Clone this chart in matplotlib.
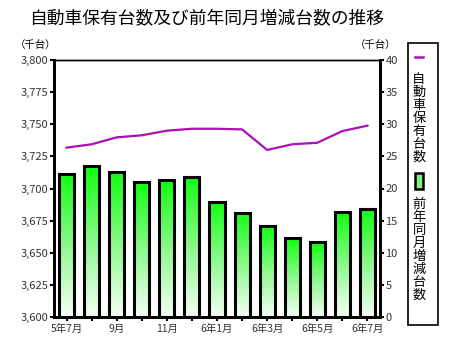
import numpy as np
import matplotlib
matplotlib.use("Agg")
import matplotlib.pyplot as plt
from matplotlib.patches import Rectangle
from matplotlib.lines import Line2D
from matplotlib.colors import LinearSegmentedColormap

plt.rcParams['font.family'] = ['Noto Sans CJK JP', 'DejaVu Sans']

## data (thousand vehicles)
months = ["5年7月", "8月", "9月", "10月", "11月", "12月", "6年1月",
          "2月", "6年3月", "4月", "6年5月", "6月", "6年7月"]
holdings = [3731.8, 3734.4, 3739.8, 3741.4, 3745.0, 3746.5, 3746.5,
            3746.0, 3730.0, 3734.4, 3735.6, 3744.7, 3748.9]
yoy_change = [22.3, 23.5, 22.6, 21.0, 21.3, 21.8, 17.9,
              16.2, 14.2, 12.3, 11.6, 16.4, 16.8]
left_ticks = [3600, 3625, 3650, 3675, 3700, 3725, 3750, 3775, 3800]
right_ticks = [0, 5, 10, 15, 20, 25, 30, 35, 40]

purple = '#aa10b4'
green_cmap = LinearSegmentedColormap.from_list("g", ["#f6fff6", "#8cf88c", "#10ff10"])

fig = plt.figure(figsize=(4.58, 3.58), dpi=100)
ax = fig.add_axes([54/458, 1-317/358, 326/458, 257/358])
x = np.arange(len(months))

# bars (right scale) with vertical gradient
bars = ax.bar(x, yoy_change, width=0.6, facecolor='none',
              edgecolor='black', linewidth=2.2, zorder=3)
grad = np.linspace(0, 1, 256).reshape(-1, 1)
for b in bars:
    im = ax.imshow(grad, cmap=green_cmap, aspect='auto', origin='lower',
                   extent=[b.get_x(), b.get_x()+b.get_width(), 0, b.get_height()],
                   zorder=2)
    im.set_clip_path(b)
ax.set_xlim(-0.5, len(months)-0.5)
ax.set_ylim(0, 40)

# line (left scale)
ax2 = ax.twinx()
ax2.plot(x, holdings, color=purple, linewidth=1.6)
ax2.set_ylim(3600, 3800)
ax2.yaxis.tick_left()
ax2.set_yticks(left_ticks)
ax2.set_yticklabels([f"{v:,}" for v in left_ticks])
ax.yaxis.tick_right()
ax.set_yticks(right_ticks)

shown = {0, 2, 4, 6, 8, 10, 12}
ax.set_xticks(x)
ax.set_xticklabels([m if i in shown else "" for i, m in enumerate(months)])

for a in (ax, ax2):
    for s in ('left', 'right', 'bottom'):
        a.spines[s].set_linewidth(2)
    a.spines['top'].set_linewidth(1)
    a.tick_params(axis='both', labelsize=8, length=3, width=1.5,
                  colors='black', pad=1, labelcolor='#333333')
ax.tick_params(axis='x', labelsize=7.5, pad=2)

fig.text(207/458, 1-19/358, "自動車保有台数及び前年同月増減台数の推移",
         ha='center', va='center', fontsize=12.8)
fig.text(36/458, 1-45/358, "（千台）", ha='center', va='center', fontsize=7.5)
fig.text(376/458, 1-45/358, "（千台）", ha='center', va='center', fontsize=7.5)

# legend drawn by hand
fig.add_artist(Rectangle((408/458, 1-325/358), 30/458, 282/358,
                         transform=fig.transFigure, fill=False,
                         edgecolor='black', linewidth=1.2))
fig.add_artist(Line2D([415/458, 423/458], [1-57/358, 1-57/358],
                      transform=fig.transFigure, color=purple, linewidth=1.8))
fig.text(419/458, 1-118/358, "\n".join("自動車保有台数"), ha='center',
         va='center', fontsize=9.5, linespacing=1.0)
leg_bar = Rectangle((415/458, 1-189/358), 8/458, 16/358,
                    transform=fig.transFigure, facecolor='#80f080',
                    edgecolor='black', linewidth=1.8)
fig.add_artist(leg_bar)
fig.text(419/458, 1-250/358, "\n".join("前年同月増減台数"), ha='center',
         va='center', fontsize=9.5, linespacing=1.0)

fig.savefig("out.png", dpi=100)
